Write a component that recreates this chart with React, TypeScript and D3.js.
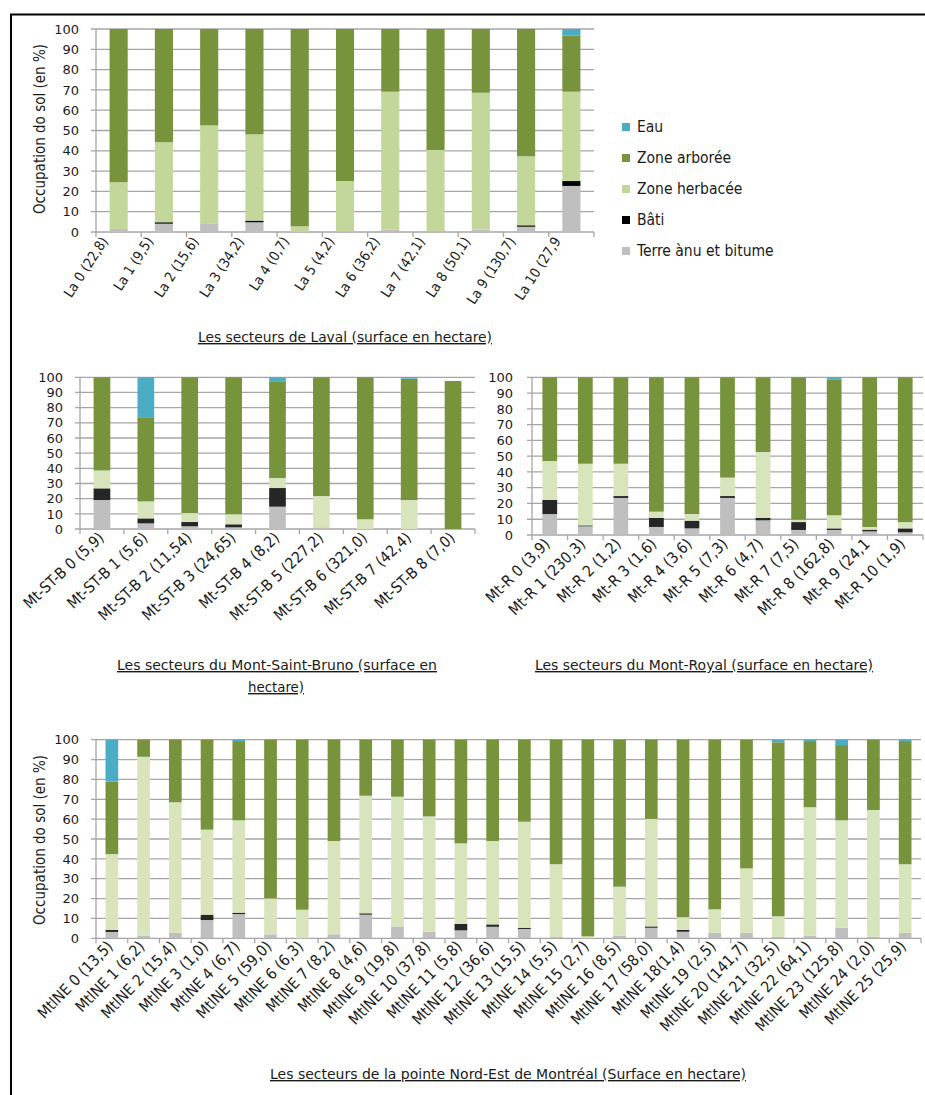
import React from 'react';
import * as d3 from 'd3';

// ---------- DATA ----------
const KEYS = ['terre', 'bati', 'herb', 'arb', 'eau'];
const legendLabels = ['Eau', 'Zone arborée', 'Zone herbacée', 'Bâti', 'Terre ànu et bitume'];
const legendKeys = ['eau', 'arb', 'herb', 'bati', 'terre'];
const yTicks = [0, 10, 20, 30, 40, 50, 60, 70, 80, 90, 100];

// Laval
const lavalCats = ['La 0 (22,8)', 'La 1 (9,5)', 'La 2 (15,6)', 'La 3 (34,2)', 'La 4 (0,7)', 'La 5 (4,2)', 'La 6 (36,2)', 'La 7 (42,1)', 'La 8 (50,1)', 'La 9 (130,7)', 'La 10 (27,9'];
const lavalTerre = [1.5, 4.1, 4.0, 4.8, 0, 0.3, 1.3, 0.5, 1.3, 2.6, 22.7];
const lavalBati = [0, 0.7, 0, 0.8, 0, 0, 0, 0, 0, 0.7, 2.4];
const lavalHerb = [23.0, 39.4, 48.5, 42.5, 2.8, 24.8, 67.8, 39.9, 67.3, 34.0, 44.0];
const lavalArb = [75.5, 55.8, 47.5, 51.9, 97.2, 74.9, 30.9, 59.6, 31.4, 62.7, 27.6];
const lavalEau = [0, 0, 0, 0, 0, 0, 0, 0, 0, 0, 3.3];

// Mont-Saint-Bruno
const stbCats = ['Mt-ST-B 0 (5,9)', 'Mt-ST-B 1 (5,6)', 'Mt-ST-B 2 (11,54)', 'Mt-ST-B 3 (24,65)', 'Mt-ST-B 4 (8,2)', 'Mt-ST-B 5 (227,2)', 'Mt-ST-B 6 (321,0)', 'Mt-ST-B 7 (42,4)', 'Mt-ST-B 8 (7,0)'];
const stbTerre = [19.1, 3.7, 1.8, 1.1, 14.7, 1.1, 0, 0, 0];
const stbBati = [7.7, 3.3, 2.8, 2.0, 12.3, 0, 0, 0, 0];
const stbHerb = [11.8, 11.2, 5.9, 6.6, 6.6, 20.6, 6.4, 19.1, 0];
const stbArb = [61.4, 55.5, 89.5, 90.3, 63.8, 78.3, 93.6, 80.0, 97.6];
const stbEau = [0, 26.3, 0, 0, 2.6, 0, 0, 0.9, 0];

// Mont-Royal
const mtrCats = ['Mt-R 0 (3,9)', 'Mt-R 1 (230,3)', 'Mt-R 2 (1,2)', 'Mt-R 3 (1,6)', 'Mt-R 4 (3,6)', 'Mt-R 5 (7,3)', 'Mt-R 6 (4,7)', 'Mt-R 7 (7,5)', 'Mt-R 8 (162,8)', 'Mt-R 9 (24,1', 'Mt-R 10 (1,9)'];
const mtrTerre = [13.3, 5.5, 23.5, 5.1, 4.2, 23.5, 9.3, 3.2, 3.2, 2.3, 1.7];
const mtrBati = [8.9, 0.6, 1.2, 5.7, 4.9, 1.2, 1.5, 5.0, 1.0, 1.1, 2.5];
const mtrHerb = [24.7, 39.1, 20.5, 4.0, 4.2, 11.7, 41.8, 1.5, 8.3, 1.7, 4.0];
const mtrArb = [53.1, 54.8, 54.8, 85.2, 86.7, 63.6, 47.4, 90.3, 86.2, 94.9, 91.8];
const mtrEau = [0, 0, 0, 0, 0, 0, 0, 0, 1.3, 0, 0];

// Pointe Nord-Est de Montréal
const neCats = ['MtlNE 0 (13,5)', 'MtlNE 1 (6,2)', 'MtlNE 2 (15,4)', 'MtlNE 3 (1,0)', 'MtlNE 4 (6,7)', 'MtlNE 5 (59,0)', 'MtlNE 6 (6,3)', 'MtlNE 7 (8,2)', 'MtlNE 8 (4,6)', 'MtlNE 9 (19,8)', 'MtlNE 10 (37,8)', 'MtlNE 11 (5,8)', 'MtlNE 12 (36,6)', 'MtlNE 13 (15,5)', 'MtlNE 14 (5,5)', 'MtlNE 15 (2,7)', 'MtlNE 16 (8,5)', 'MtlNE 17 (58,0)', 'MtlNE 18(1,4)', 'MtlNE 19 (2,5)', 'MtlNE 20 (141,7)', 'MtlNE 21 (32,5)', 'MtlNE 22 (64,1)', 'MtlNE 23 (125,8)', 'MtlNE 24 (2,0)', 'MtlNE 25 (25,9)'];
const neTerre = [3.2, 1.3, 2.7, 9.2, 12.2, 2.0, 0, 2.0, 11.9, 6.0, 3.3, 4.0, 5.8, 4.7, 0.7, 0, 1.3, 5.3, 3.3, 2.7, 2.7, 0.7, 1.3, 5.3, 0.7, 2.7];
const neBati = [1.0, 0, 0, 2.7, 0.7, 0, 0, 0, 0.7, 0, 0, 3.2, 1.2, 0.6, 0, 0, 0, 0.7, 0.9, 0, 0, 0, 0, 0, 0, 0];
const neHerb = [38.2, 90.1, 65.8, 42.8, 46.5, 18.1, 14.4, 47.0, 59.2, 65.3, 58.1, 40.6, 42.0, 53.4, 36.6, 1.0, 24.7, 54.1, 6.4, 11.9, 32.5, 10.4, 64.7, 54.1, 63.9, 34.6];
const neArb = [36.5, 8.6, 31.5, 45.3, 39.9, 79.9, 85.6, 51.0, 28.2, 28.7, 38.6, 52.2, 51.0, 41.3, 62.7, 99.0, 74.0, 39.9, 89.4, 85.4, 64.8, 87.6, 33.3, 37.9, 35.4, 62.0];
const neEau = [21.1, 0, 0, 0, 0.7, 0, 0, 0, 0, 0, 0, 0, 0, 0, 0, 0, 0, 0, 0, 0, 0, 1.3, 0.7, 2.7, 0, 0.7];

// ---------- STYLE ----------
const lavalColors: Record<string, string> = { terre: '#bfbfbf', bati: '#000000', herb: '#c4d79b', arb: '#77933c', eau: '#4bacc6' };
const otherColors: Record<string, string> = { terre: '#bfbfbf', bati: '#262626', herb: '#d8e4bc', arb: '#77933c', eau: '#4bacc6' };
const NARROW = "'DejaVu Sans Condensed', 'Liberation Sans Narrow', 'Roboto', sans-serif";
const TICKFONT = "'DejaVu Sans', 'Verdana', sans-serif";
const GRID = '#a6a6a6';

type ChartProps = {
  cats: string[];
  series: number[][];
  colors: Record<string, string>;
  x0: number; x1: number; yTop: number; yBot: number;
  pad: number; labelSize: number; labelDx: number; labelDy: number; angle: number;
  tickEnd: number;
};

function StackedChart(p: ChartProps) {
  const y = d3.scaleLinear().domain([0, 100]).range([p.yBot, p.yTop]);
  const x = d3.scaleBand<string>().domain(p.cats).range([p.x0, p.x1]).paddingInner(p.pad).paddingOuter(p.pad / 2);
  const rows = p.cats.map((c, i) => {
    const r: any = { cat: c };
    KEYS.forEach((k, j) => { r[k] = p.series[j][i]; });
    return r;
  });
  const stacked = d3.stack<any>().keys(KEYS)(rows);
  const step = x.step();
  return (
    <g>
      {yTicks.map((t) => (
        <g key={'g' + t}>
          <line x1={p.x0 - 5} x2={p.x1} y1={y(t)} y2={y(t)} stroke={GRID} strokeWidth={1.3} />
          <text x={p.tickEnd} y={y(t)} dy="0.36em" textAnchor="end" fontFamily={TICKFONT} fontSize={13} fill="#1a1a1a">{t}</text>
        </g>
      ))}
      <line x1={p.x0} x2={p.x0} y1={p.yTop} y2={p.yBot} stroke={GRID} strokeWidth={1.3} />
      {d3.range(p.cats.length + 1).map((i) => (
        <line key={'xt' + i} x1={p.x0 + i * step} x2={p.x0 + i * step} y1={p.yBot} y2={p.yBot + 5} stroke={GRID} strokeWidth={1.3} />
      ))}
      {stacked.map((s) => (
        <g key={s.key} fill={p.colors[s.key]}>
          {s.map((d, i) => (d[1] - d[0] > 0 ? (
            <rect key={i} x={x(p.cats[i])} width={x.bandwidth()} y={y(d[1])} height={y(d[0]) - y(d[1])} />
          ) : null))}
        </g>
      ))}
      {p.cats.map((c) => {
        const cx = (x(c) as number) + x.bandwidth() / 2;
        return (
          <text key={'l' + c} transform={`translate(${cx + p.labelDx},${p.yBot + p.labelDy}) rotate(${p.angle})`} textAnchor="end"
            fontFamily={NARROW} fontSize={p.labelSize} fill="#1a1a1a">{c}</text>
        );
      })}
    </g>
  );
}

function Title({ x, y, text, len, size = 14 }: { x: number; y: number; text: string; len: number; size?: number }) {
  return (
    <text x={x} y={y} textAnchor="middle" fontFamily={NARROW} fontSize={size} fill="#1a1a1a"
      textDecoration="underline" textLength={len} lengthAdjust="spacingAndGlyphs">{text}</text>
  );
}

export default function App() {
  return (
    <svg width={925} height={1095} style={{ position: 'absolute', left: 0, top: 0, background: '#fff' }}>
      <rect x={0} y={0} width={925} height={1095} fill="#fff" />
      <path d="M11,1100 L11,14.5 L930,14.5" fill="none" stroke="#000" strokeWidth={2} />

      {/* Laval */}
      <StackedChart cats={lavalCats} series={[lavalTerre, lavalBati, lavalHerb, lavalArb, lavalEau]} colors={lavalColors}
        x0={96} x1={594} yTop={29} yBot={232} pad={0.6} labelSize={14} labelDx={-10} labelDy={9} angle={-57} tickEnd={79} />
      <text transform="translate(45,129) rotate(-90)" textAnchor="middle" fontFamily={NARROW} fontSize={15} fill="#1a1a1a"
        textLength={170} lengthAdjust="spacingAndGlyphs">Occupation do sol (en %)</text>
      {legendKeys.map((k, i) => (
        <g key={k}>
          <rect x={622} y={123 + i * 31} width={8} height={8} fill={lavalColors[k]} />
          <text x={637} y={132 + i * 31} fontFamily={NARROW} fontSize={15.5} fill="#1a1a1a">{legendLabels[i]}</text>
        </g>
      ))}
      <Title x={345} y={342} text="Les secteurs de Laval (surface en hectare)" len={294} />

      {/* Mont-Saint-Bruno */}
      <StackedChart cats={stbCats} series={[stbTerre, stbBati, stbHerb, stbArb, stbEau]} colors={otherColors}
        x0={80} x1={475} yTop={377.3} yBot={529} pad={0.62} labelSize={15.5} labelDx={3} labelDy={10} angle={-43} tickEnd={63} />
      <Title x={277} y={670} text="Les secteurs du Mont-Saint-Bruno  (surface en" len={320} />
      <Title x={276} y={692} text="hectare)" len={56} />

      {/* Mont-Royal */}
      <StackedChart cats={mtrCats} series={[mtrTerre, mtrBati, mtrHerb, mtrArb, mtrEau]} colors={otherColors}
        x0={532} x1={923} yTop={377.3} yBot={535} pad={0.585} labelSize={15.5} labelDx={1} labelDy={10} angle={-45} tickEnd={513} />
      <Title x={704} y={670} text="Les secteurs du Mont-Royal  (surface en hectare)" len={338} />

      {/* Pointe Nord-Est */}
      <StackedChart cats={neCats} series={[neTerre, neBati, neHerb, neArb, neEau]} colors={otherColors}
        x0={96} x1={921} yTop={739.7} yBot={938.3} pad={0.6} labelSize={15.5} labelDx={2} labelDy={9} angle={-46} tickEnd={79} />
      <text transform="translate(45,840) rotate(-90)" textAnchor="middle" fontFamily={NARROW} fontSize={15} fill="#1a1a1a"
        textLength={170} lengthAdjust="spacingAndGlyphs">Occupation do sol (en %)</text>
      <Title x={508} y={1079} text="Les secteurs de la pointe Nord-Est de Montréal (Surface en hectare)" len={476} />
    </svg>
  );
}
